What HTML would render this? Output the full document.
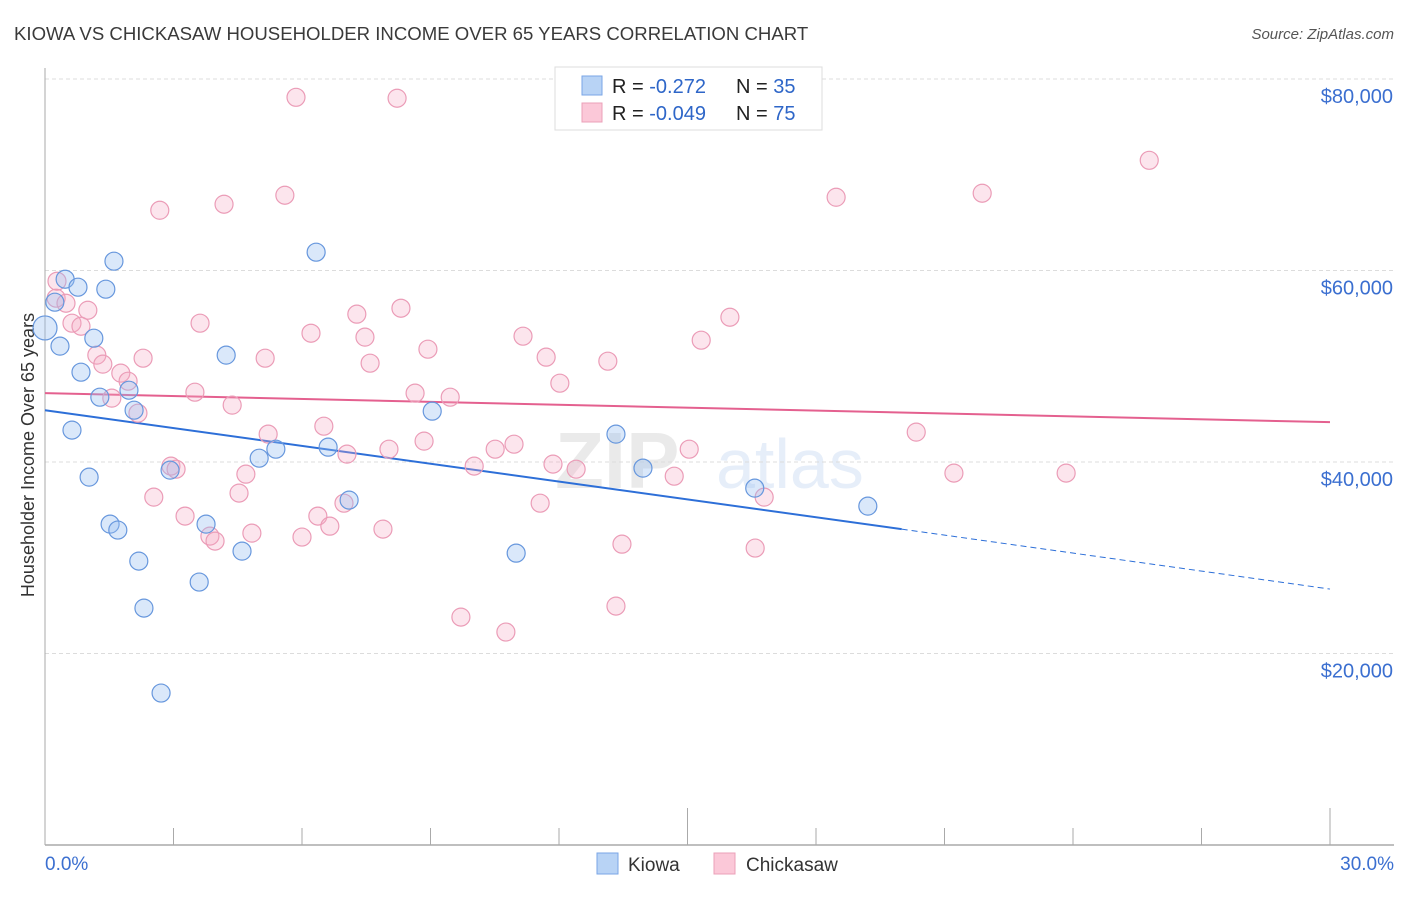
<!DOCTYPE html>
<html><head><meta charset="utf-8"><style>
body{margin:0;background:#fff;font-family:"Liberation Sans",sans-serif}
svg text{font-family:"Liberation Sans",sans-serif}
</style></head><body>
<svg id="chart" width="1406" height="892" viewBox="0 0 1406 892" xmlns="http://www.w3.org/2000/svg">
<text x="14" y="40" font-size="18.6" fill="#3a3a3a">KIOWA VS CHICKASAW HOUSEHOLDER INCOME OVER 65 YEARS CORRELATION CHART</text>
<text x="1394" y="39" font-size="15" fill="#555" font-style="italic" text-anchor="end">Source: ZipAtlas.com</text>
<g opacity="0.13"><text x="555" y="488" font-size="80" font-family="Liberation Serif" fill="#666" font-weight="bold">ZIP</text><text x="716" y="488" font-size="70" fill="#4a7fd4">atlas</text></g>
<g id="grid"></g>
<g id="axes"></g>
<text transform="translate(34,455) rotate(-90)" font-size="18" fill="#333" text-anchor="middle">Householder Income Over 65 years</text>
<g id="lines"></g>
<g id="pts"></g>
<g>
<rect x="555" y="67" width="267" height="63" fill="#fff" stroke="#ddd"/>
<rect x="582" y="76" width="20" height="19" fill="#b8d3f5" stroke="#7aa6e6"/>
<rect x="582" y="103" width="20" height="19" fill="#fbc8d8" stroke="#eba0b8"/>
<text x="612" y="93" font-size="20" fill="#222">R = <tspan fill="#2e66c8"> -0.272</tspan><tspan x="736">N = </tspan><tspan fill="#2e66c8">35</tspan></text>
<text x="612" y="120" font-size="20" fill="#222">R = <tspan fill="#2e66c8">-0.049</tspan><tspan x="736">N = </tspan><tspan fill="#2e66c8">75</tspan></text>
</g>
<g>
<rect x="597" y="853" width="21" height="21" fill="#b8d3f5" stroke="#7aa6e6"/>
<text x="628" y="871" font-size="19" fill="#333">Kiowa</text>
<rect x="714" y="853" width="21" height="21" fill="#fbc8d8" stroke="#eba0b8"/>
<text x="746" y="871" font-size="19" fill="#333">Chickasaw</text>
</g>
</svg>
<script>
const yTicks=[20000,40000,60000,80000];
const yTickLabels=["$20,000","$40,000","$60,000","$80,000"];
const xTickLabels=["0.0%","30.0%"];
const kiowaX=[0.0,0.47,0.77,1.42,1.61,0.23,0.35,1.14,0.84,1.28,1.96,0.63,2.08,1.03,1.52,1.70,2.19,2.31,2.71,2.92,3.60,3.76,4.23,4.60,5.00,5.39,6.33,6.61,7.10,9.04,11.00,13.33,13.96,16.57,19.21];
const kiowaY=[54000,59090,58255,58046,60970,56690,52100,52930,49380,46770,47500,43330,45410,38420,33510,32890,29650,24740,15870,39150,27460,33510,51160,30690,40400,41340,61910,41550,36020,45310,30480,42910,39360,37270,35390];
const chickX=[5.86,8.22,25.78,21.88,18.47,5.60,4.18,2.68,0.28,0.26,0.49,1.00,0.63,0.84,3.62,8.31,7.28,6.21,7.47,11.16,15.99,15.32,8.94,11.70,13.14,1.21,2.29,5.14,7.59,1.35,1.77,1.94,12.02,8.64,3.50,9.46,4.37,2.17,6.51,5.21,8.85,20.34,10.51,10.95,15.04,7.05,8.03,2.94,3.06,10.02,11.86,12.40,14.69,21.22,23.84,4.69,4.53,2.54,11.56,16.79,6.98,6.37,3.27,6.65,7.89,4.83,3.85,3.97,6.00,13.47,16.58,9.71,10.76,13.33,1.56];
const chickY=[78090,77990,71510,68070,67650,67860,66920,66290,58880,57110,56580,55850,54500,54180,54500,56060,55440,53450,53040,53140,55120,52720,51780,50950,50530,51160,50840,50840,50320,50220,49280,48440,48230,47190,47290,46770,45940,45100,43740,42910,42180,43120,41340,41860,41340,40820,41340,39570,39250,39570,39780,39250,38520,38840,38840,38730,36750,36330,35700,36330,35700,34350,34350,33300,32990,32570,32260,31740,32160,31420,31010,23800,22240,24950,46670];
const kiowaTrend=[[0,45410],[20,32990],[30,26730]];
const chickTrend=[[0,47190],[30,44160]];
const NS="http://www.w3.org/2000/svg";
const X=v=>45+v*(1285/30);
const Y=v=>845-v*(766/80000);
function mk(tag,attrs,parent){const e=document.createElementNS(NS,tag);for(const k in attrs)e.setAttribute(k,attrs[k]);parent.appendChild(e);return e;}
const grid=document.getElementById('grid'),axes=document.getElementById('axes'),pts=document.getElementById('pts'),lines=document.getElementById('lines');
yTicks.forEach((t,i)=>{
 const l=mk('line',{x1:45,x2:1394,y1:Y(t),y2:Y(t),stroke:'#dcdcdc','stroke-dasharray':'4,3'},grid);
 
 
 const tx=mk('text',{x:1393,y:Y(t)+24,'font-size':20,fill:'#3b6fd0','text-anchor':'end'},axes);
 tx.textContent=yTickLabels[i];
 
 
});
const ya=mk('line',{x1:45,x2:45,y1:68,y2:845,stroke:'#aaa'},axes);


const xa=mk('line',{x1:45,x2:1394,y1:845,y2:845,stroke:'#aaa','stroke-width':1.5},axes);


for(let i=1;i<=10;i++){
 const long=(i===5||i===10);
 const tk=mk('line',{x1:X(i*3),x2:X(i*3),y1:long?808:828,y2:845,stroke:'#aaa'},axes);
 
 
}
const xl0=mk('text',{x:45,y:870,'font-size':19,fill:'#3b6fd0'},axes);
xl0.textContent=xTickLabels[0];


const xl1=mk('text',{x:1394,y:870,'font-size':19,fill:'#3b6fd0','text-anchor':'end'},axes);
xl1.textContent=xTickLabels[1];


function dots(xs,ys,fill,stroke,name){xs.forEach((x,i)=>{
 const big=(name==='kiowa-point'&&i===0);
 const c=mk('circle',{cx:X(x),cy:Y(ys[i]),r:big?12:9,fill:fill,stroke:stroke,'stroke-width':1.2},pts);
 
 
});}
dots(chickX,chickY,'rgba(245,170,195,0.3)','#eb9cb7','chickasaw-point');
dots(kiowaX,kiowaY,'rgba(150,190,240,0.35)','#6797dd','kiowa-point');
const kl=mk('line',{x1:X(kiowaTrend[0][0]),y1:Y(kiowaTrend[0][1]),x2:X(kiowaTrend[1][0]),y2:Y(kiowaTrend[1][1]),stroke:'#2d6fd8','stroke-width':2},lines);


const kd=mk('line',{x1:X(kiowaTrend[1][0]),y1:Y(kiowaTrend[1][1]),x2:X(kiowaTrend[2][0]),y2:Y(kiowaTrend[2][1]),stroke:'#2d6fd8','stroke-width':1,'stroke-dasharray':'6,4'},lines);


const cl=mk('line',{x1:X(chickTrend[0][0]),y1:Y(chickTrend[0][1]),x2:X(chickTrend[1][0]),y2:Y(chickTrend[1][1]),stroke:'#e4608f','stroke-width':2},lines);


</script>
</body></html>
